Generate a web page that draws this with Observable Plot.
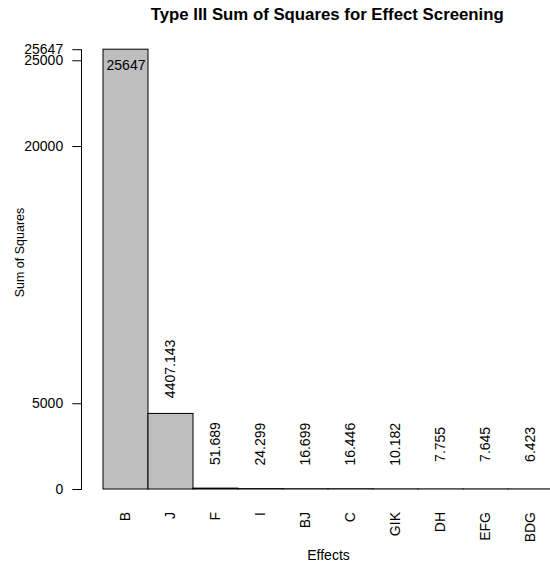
<!DOCTYPE html>
<html>
<head>
<meta charset="utf-8">
<script src="https://cdn.jsdelivr.net/npm/d3@7"></script>
<script src="https://cdn.jsdelivr.net/npm/@observablehq/plot@0.6"></script>
<style>
  html, body { margin: 0; padding: 0; background: #fff; overflow: hidden; width: 550px; height: 564px; }
  #chart { position: relative; width: 550px; height: 564px; overflow: hidden; }
</style>
</head>
<body>
<div id="chart"></div>
<script>
const effects = ["B", "J", "F", "I", "BJ", "C", "GIK", "DH", "EFG", "BDG"];
const sumSquares = [25647, 4407.143, 51.689, 24.299, 16.699, 16.446, 10.182, 7.755, 7.645, 6.423];
const valueLabels = ["25647", "4407.143", "51.689", "24.299", "16.699", "16.446", "10.182", "7.755", "7.645", "6.423"];
const yTicks = [0, 5000, 20000, 25000, 25647];
const titleText = "Type III Sum of Squares for Effect Screening";
const xLabel = "Effects";
const yLabel = "Sum of Squares";

const data = effects.map((e, i) => ({effect: e, ss: sumSquares[i], label: valueLabels[i]}));
const top1 = data.slice(0, 1);
const rest = data.slice(1);

const font = "'Liberation Sans', Arial, Helvetica, sans-serif";

const chart = Plot.plot({
  width: 550,
  height: 564,
  marginLeft: 81,
  marginRight: 0,
  marginTop: 49.2,
  marginBottom: 75,
  style: {fontFamily: font, fontSize: "14px", background: "white", color: "black", overflow: "hidden", maxWidth: "none"},
  x: {type: "band", domain: effects, range: [99, 557], padding: 0},
  y: {domain: [0, 25647]},
  marks: [
    Plot.barY(data, {x: "effect", y: "ss", fill: "#bebebe", stroke: "black", strokeWidth: 1}),
    Plot.frame({anchor: "left", stroke: "black"}),
    Plot.axisY({ticks: yTicks, tickFormat: d => String(d), tickSize: 8.7, tickPadding: 9.6, label: null, fontSize: 14}),
    Plot.axisX({tickRotate: -90, tickSize: 0, tickPadding: 22.5, label: null, fontSize: 14}),
    Plot.text(top1, {x: "effect", y: "ss", text: "label", dy: 16.1, fontSize: 14, fill: "black"}),
    Plot.text(rest, {x: "effect", y: "ss", text: "label", rotate: -90, dy: -45, textAnchor: "middle", lineAnchor: "middle", fontSize: 14, fill: "black"}),
    Plot.text([titleText], {frameAnchor: "top-left", dx: 245.7, dy: -35.5, textAnchor: "middle", lineAnchor: "middle", fontWeight: "bold", fontSize: 16.8, fill: "black"}),
    Plot.text([yLabel], {frameAnchor: "top-left", dx: -61.2, dy: 202.8, rotate: -90, textAnchor: "middle", lineAnchor: "middle", fontSize: 12.5, fill: "black"}),
    Plot.text([xLabel], {frameAnchor: "bottom-left", dx: 247, dy: 66, textAnchor: "middle", lineAnchor: "middle", fontSize: 14, fill: "black"})
  ]
});
document.getElementById("chart").appendChild(chart);
</script>
</body>
</html>
